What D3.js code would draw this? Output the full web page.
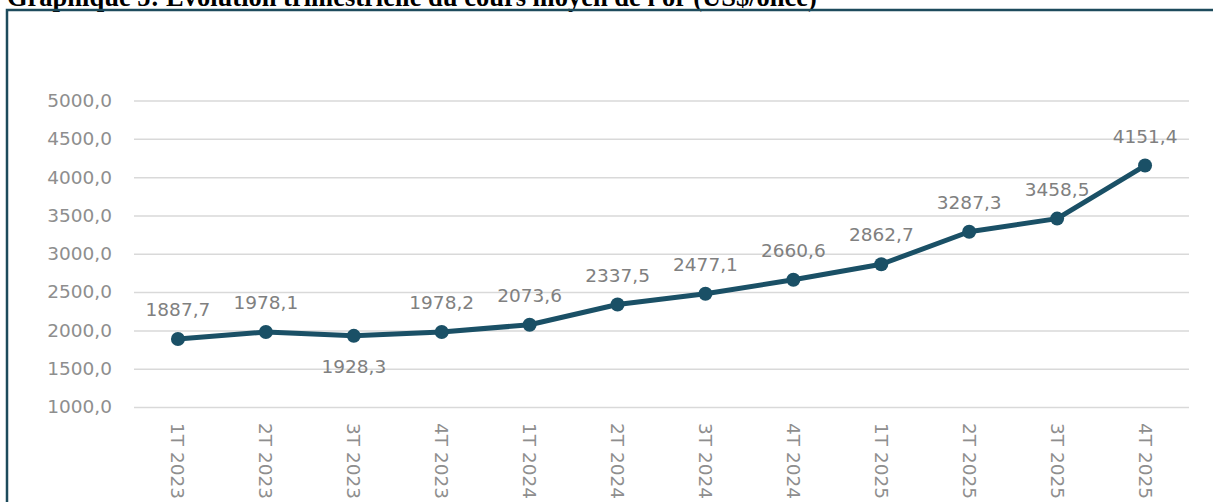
<!DOCTYPE html>
<html>
<head>
<meta charset="utf-8">
<script src="https://cdn.jsdelivr.net/npm/d3@7"></script>
<style>
  body { margin: 0; background: #fff; }
  svg { display: block; }
</style>
</head>
<body>
<div id="chart-area"></div>
<script>
// data
var quarters = ["1T 2023", "2T 2023", "3T 2023", "4T 2023",
                "1T 2024", "2T 2024", "3T 2024", "4T 2024",
                "1T 2025", "2T 2025", "3T 2025", "4T 2025"];
var prices = [1887.7, 1978.1, 1928.3, 1978.2, 2073.6, 2337.5,
              2477.1, 2660.6, 2862.7, 3287.3, 3458.5, 4151.4];
var yTicks = [1000, 1500, 2000, 2500, 3000, 3500, 4000, 4500, 5000];
// labels placed under the point instead of over it
var labelsBelow = ["3T 2023"];

var W = 1213, H = 502;
var margin = { left: 134, right: 24, top: 100.5, bottom: 95 };

var fmt = function(v) { return d3.format(".1f")(v).replace(".", ","); };

var svg = d3.select("#chart-area").append("svg")
    .attr("width", W)
    .attr("height", H);

// title (cut by the top of the picture, as in the source)
svg.append("text")
    .attr("x", 7)
    .attr("y", 6)
    .attr("font-family", "Liberation Serif, Times New Roman, serif")
    .attr("font-weight", "bold")
    .attr("font-size", "26.5px")
    .attr("fill", "#000")
    .text("Graphique 5: Evolution trimestrielle du cours moyen de l'or (US$/once)");

// frame
svg.append("rect")
    .attr("x", 7)
    .attr("y", 10)
    .attr("width", W + 20)
    .attr("height", H + 20)
    .attr("fill", "none")
    .attr("stroke", "#1d4b5c")
    .attr("stroke-width", 2.5);

// scales
var x = d3.scaleBand()
    .domain(quarters)
    .range([margin.left, W - margin.right]);

var y = d3.scaleLinear()
    .domain([1000, 5000])
    .range([H - margin.bottom, margin.top]);

// grid
var yAxisCall = d3.axisLeft(y)
    .tickValues(yTicks)
    .tickSize(-(W - margin.right - margin.left))
    .tickPadding(22)
    .tickFormat(fmt);

var yAxis = svg.append("g")
    .attr("class", "y axis")
    .attr("transform", "translate(" + margin.left + ",0)")
    .call(yAxisCall);

yAxis.select(".domain").remove();
yAxis.selectAll(".tick line")
    .attr("stroke", "#d9d9d9")
    .attr("stroke-width", 1.5);
yAxis.selectAll(".tick text")
    .attr("font-family", "DejaVu Sans, sans-serif")
    .attr("font-size", "18.5px")
    .attr("fill", "#8e8e8e");

// x labels, rotated
var xAxis = svg.append("g").attr("class", "x axis");
xAxis.selectAll("text")
    .data(quarters)
    .enter().append("text")
    .attr("transform", d => "translate(" + (x(d) + x.bandwidth() / 2) + ",423) rotate(90)")
    .attr("dy", "0.35em")
    .attr("font-family", "DejaVu Sans, sans-serif")
    .attr("font-size", "18.5px")
    .attr("fill", "#8e8e8e")
    .text(d => d);

var series = quarters.map((q, i) => ({ q: q, v: prices[i] }));

var line = d3.line()
    .x(d => x(d.q) + x.bandwidth() / 2)
    .y(d => y(d.v));

svg.append("path")
    .datum(series)
    .attr("fill", "none")
    .attr("stroke", "#1a5066")
    .attr("stroke-width", 5)
    .attr("stroke-linejoin", "round")
    .attr("d", line);

svg.selectAll(".dot")
    .data(series)
    .enter().append("circle")
    .attr("class", "dot")
    .attr("cx", d => x(d.q) + x.bandwidth() / 2)
    .attr("cy", d => y(d.v))
    .attr("r", 7)
    .attr("fill", "#1a5066");

svg.selectAll(".lbl")
    .data(series)
    .enter().append("text")
    .attr("class", "lbl")
    .attr("x", d => x(d.q) + x.bandwidth() / 2)
    .attr("y", d => y(d.v) + (labelsBelow.indexOf(d.q) >= 0 ? 37 : -23))
    .attr("text-anchor", "middle")
    .attr("font-family", "DejaVu Sans, sans-serif")
    .attr("font-size", "18.5px")
    .attr("fill", "#808080")
    .text(d => fmt(d.v));
</script>
</body>
</html>
